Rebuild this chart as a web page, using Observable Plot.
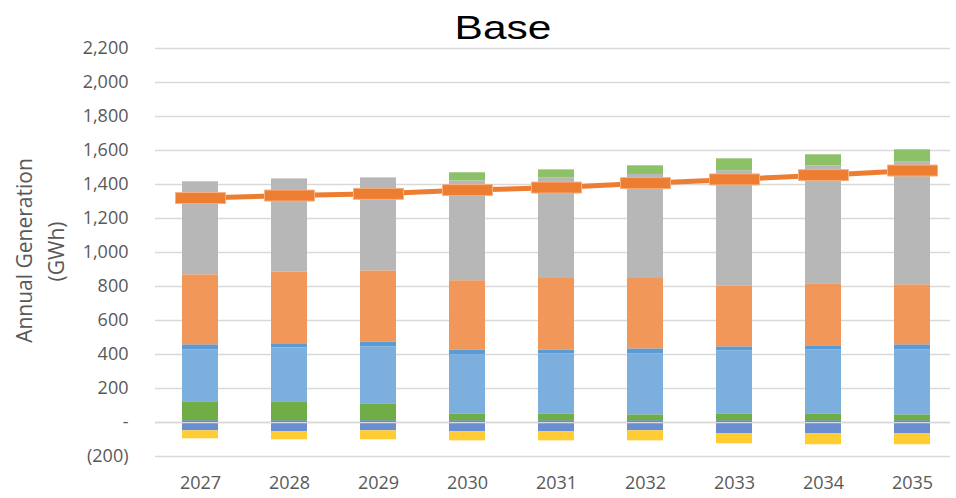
<!DOCTYPE html>
<html>
<head>
<meta charset="utf-8">
<script src="https://cdn.jsdelivr.net/npm/d3@7"></script>
<script src="https://cdn.jsdelivr.net/npm/@observablehq/plot@0.6"></script>
<style>
  body { margin: 0; background: #fff; }
  #wrap { position: relative; width: 956px; height: 498px; overflow: hidden; }
  #title {
    position: absolute; left: 0; top: 10px; width: 1006px; text-align: center;
    font-family: "Liberation Sans", Arial, sans-serif; font-size: 34px; line-height: 34px;
    color: #000; transform-origin: 503px 0; transform: scaleX(1.25); z-index: 2;
  }
</style>
</head>
<body>
<div id="wrap"><div id="title">Base</div></div>
<script>
// ---- data (GWh) ----
const years = ["2027", "2028", "2029", "2030", "2031", "2032", "2033", "2034", "2035"];

const seriesNames = ["Series A", "Series B", "Series C", "Series D", "Series E", "Series F", "Series G", "Series H", "Series I"];
const seriesColors = ["#4472C4", "#70AD47", "#7DAFDE", "#5B9BD5", "#F1975A", "#B7B7B7", "#8CC168", "#6A8ECF", "#FFCD33"];

const seriesA = [10, 10, 10, 10, 10, 10, 10, 10, 10];
const seriesB = [108, 108, 100, 41, 41, 35, 41, 41, 35];
const seriesC = [309, 321, 335, 347, 353, 359, 370, 376, 382];
const seriesD = [30, 24, 29, 29, 23, 29, 24, 24, 30];
const seriesE = [412, 423, 418, 407, 420, 414, 359, 365, 353];
const seriesF = [547, 547, 547, 587, 592, 612, 677, 694, 724];
const seriesG = [0, 0, 0, 48, 47, 51, 70, 65, 70];
const seriesH = [-49, -55, -49, -55, -55, -49, -67, -67, -67];
const seriesI = [-47, -47, -53, -53, -53, -59, -58, -64, -64];

const loadLine = [1320, 1335, 1345, 1367, 1382, 1408, 1430, 1455, 1482];

const yTicks = [-200, 0, 200, 400, 600, 800, 1000, 1200, 1400, 1600, 1800, 2000, 2200];

// ---- build tables ----
const seriesValues = [seriesA, seriesB, seriesC, seriesD, seriesE, seriesF, seriesG, seriesH, seriesI];
const table = [];
seriesValues.forEach((vals, si) => {
  years.forEach((yr, i) => table.push({year: yr, series: seriesNames[si], value: vals[i]}));
});
const lineData = years.map((yr, i) => ({year: yr, value: loadLine[i]}));

const fmt = d => d === 0 ? "-" : d < 0 ? `(${d3.format(",")(-d)})` : d3.format(",")(d);

const rectSymbol = {
  draw(context) { context.rect(-25, -5.5, 50, 11); }
};

const chart = Plot.plot({
  width: 956,
  height: 498,
  marginLeft: 155,
  marginRight: 6,
  marginTop: 48,
  marginBottom: 42,
  style: {fontFamily: "'Open Sans', sans-serif", fontSize: "18px", color: "#595959", background: "transparent"},
  x: {type: "band", domain: years, range: [153, 958], paddingInner: 0.597, paddingOuter: 0.3, label: null},
  y: {domain: [-200, 2200], label: null},
  color: {domain: seriesNames, range: seriesColors},
  marks: [
    Plot.gridY(yTicks, {stroke: "#D9D9D9", strokeOpacity: 1, strokeWidth: 1.3}),
    Plot.barY(table, {x: "year", y: "value", fill: "series"}),
    Plot.ruleY([0], {stroke: "#D9D9D9", strokeWidth: 1.5}),
    Plot.line(lineData, {x: "year", y: "value", stroke: "#ED7D31", strokeWidth: 5}),
    Plot.dot(lineData, {x: "year", y: "value", symbol: rectSymbol, fill: "#ED7D31", stroke: "#F4B183", strokeWidth: 1}),
    Plot.axisY(yTicks, {tickFormat: fmt, tickSize: 0, tickPadding: 27, fill: "#595959", fontSize: 18}),
    Plot.axisX({tickSize: 0, tickPadding: 20, fill: "#595959", fontSize: 18}),
    Plot.text(["Annual Generation"], {frameAnchor: "left", textAnchor: "middle", rotate: -90, dx: -130, dy: -2, fill: "#595959", fontSize: 21}),
    Plot.text(["(GWh)"], {frameAnchor: "left", textAnchor: "middle", rotate: -90, dx: -98, dy: -1, fill: "#595959", fontSize: 21})
  ]
});

document.getElementById("wrap").appendChild(chart);
</script>
</body>
</html>
